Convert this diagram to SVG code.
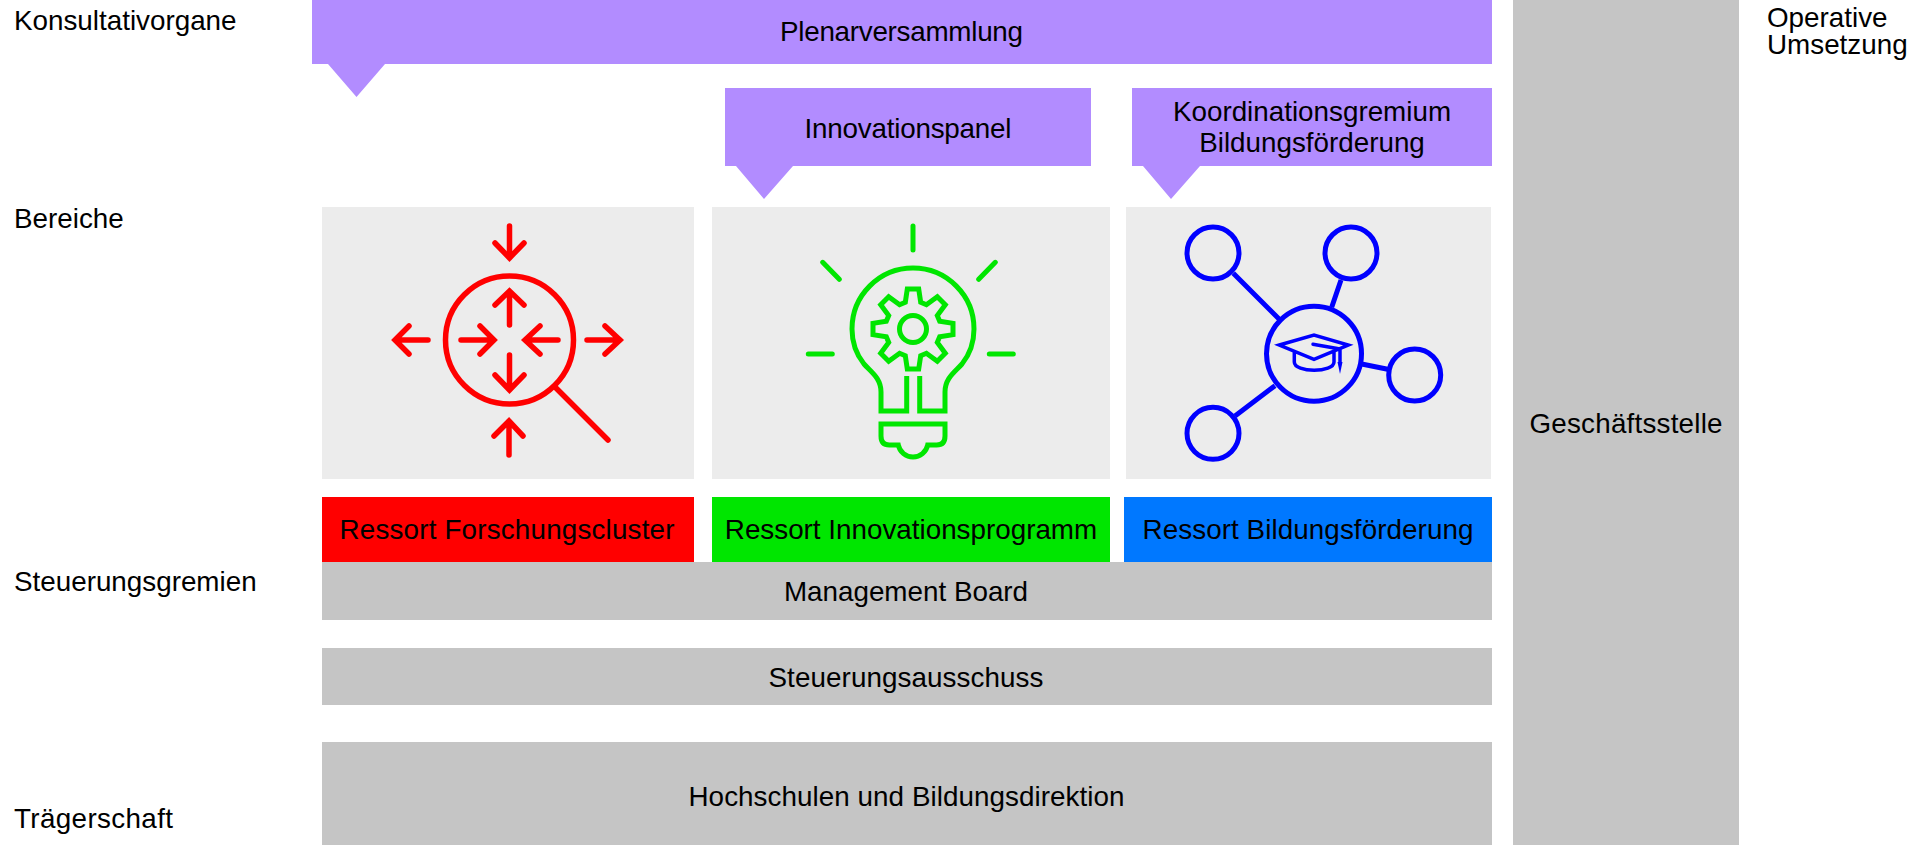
<svg xmlns="http://www.w3.org/2000/svg" width="1932" height="845" viewBox="0 0 1932 845">
<style>
text{font-family:"Liberation Sans",Arial,sans-serif;font-size:27.800px;fill:#000}
.m{text-anchor:middle}
.pur{fill:#b28cff}.gr{fill:#c5c5c5}.pan{fill:#ececec}
.ic{fill:none;stroke-width:5;stroke-linecap:round;stroke-linejoin:miter}
.r{stroke:#f00;stroke-width:5.500}.g{stroke:#00e600}.b{stroke:#00f}
</style>
<rect width="1932" height="845" fill="#fff"/>
<g id="labels">
<text x="14" y="30">Konsultativorgane</text>
<text x="14" y="228">Bereiche</text>
<text x="14" y="591">Steuerungsgremien</text>
<text x="14" y="828" textLength="159">Trägerschaft</text>
<text x="1767" y="27">Operative</text>
<text x="1767" y="54">Umsetzung</text>
</g>
<g id="plenar"><polygon class="pur" points="312,0 1492,0 1492,64 385,64 356.500,97 328,64 312,64"/><text class="m" x="901.500" y="41" textLength="243">Plenarversammlung</text></g>
<g id="innopanel"><polygon class="pur" points="725,88 1091,88 1091,166 793,166 764,199 736,166 725,166"/><text class="m" x="908" y="138" textLength="207">Innovationspanel</text></g>
<g id="koord"><polygon class="pur" points="1132,88 1492,88 1492,166 1200,166 1171,199 1143,166 1132,166"/><text class="m" x="1312" y="121">Koordinationsgremium</text><text class="m" x="1312" y="152">Bildungsförderung</text></g>
<g id="bereich-forschung"><rect class="pan" x="322" y="207" width="372" height="272"/>
<g class="ic r"><circle cx="509.500" cy="340" r="64"/><path d="M509.500 226V258M495 243L509.500 258L524 243M509.500 325V292M495 305L509.500 291L524 305M461 340H493M480 326L494 340L480 354M558 340H526M540 326L525 340L540 354M509.500 355V390M495 375L509.500 390L524 375M428 340H396M409 326L395 340L409 354M587 340H620M605 326L620 340L605 354M509 455V421M494 436L509 421L523 436M556 388L608 440"/></g></g>
<g id="bereich-innovation"><rect class="pan" x="712" y="207" width="398" height="272"/>
<g class="ic g"><path stroke-linecap="butt" d="M906.700 376V411H881V392C881 378 871 372 864 364C856 354 852 342 852 329A61 61 0 0 1 974 329C974 342 970 354 962 364C955 372 945 378 945 392V411H919.700V376"/><path d="M881 424H945V436Q945 445 936.700 445H927.700A15 15 0 0 1 898.300 445H889.300Q881 445 881 436Z"/><path d="M913 226V250M822.700 262.300L839.300 279.300M995.300 262.300L978.700 279.300M808.300 354H832.300M989.300 354H1013.300"/><circle cx="913" cy="329" r="13.500"/><polygon transform="translate(913 329)" points="-7.700,-26.700 -5.700,-40 5.700,-40 7.700,-26.700 13.400,-24.300 24.300,-32.300 32.300,-24.300 24.300,-13.400 26.700,-7.700 40,-5.700 40,5.700 26.700,7.700 24.300,13.400 32.300,24.300 24.300,32.300 13.400,24.300 7.700,26.700 5.700,40 -5.700,40 -7.700,26.700 -13.400,24.300 -24.300,32.300 -32.300,24.300 -24.300,13.400 -26.700,7.700 -40,5.700 -40,-5.700 -26.700,-7.700 -24.300,-13.400 -32.300,-24.300 -24.300,-32.300 -13.400,-24.300"/></g></g>
<g id="bereich-bildung"><rect class="pan" x="1126" y="207" width="365" height="272"/>
<g class="ic b"><circle cx="1314" cy="353.700" r="47.500"/><circle cx="1213" cy="253" r="26"/><circle cx="1351" cy="253" r="26"/><circle cx="1414.700" cy="375" r="26"/><circle cx="1213" cy="433.300" r="26"/><path stroke-linecap="butt" d="M1233.300 273.300L1279.300 319.300M1341 280L1331.700 307.300M1361.700 364L1387.700 369.300M1235 416L1275 385.700"/><path stroke-width="3.500" d="M1279.300 345L1314 335L1348.300 345L1314 359.300ZM1294.300 352V362C1294.300 373 1334 373 1334 362V352M1313 344.300L1340 349V363"/></g><polygon points="1337.500,362 1342.500,362 1340,374" fill="#00f"/></g>
<g id="ressort-forschung"><rect x="322" y="497" width="372" height="65" fill="#f00"/><text class="m" x="507" y="539" textLength="335">Ressort Forschungscluster</text></g>
<g id="ressort-innovation"><rect x="712" y="497" width="398" height="65" fill="#00e600"/><text class="m" x="911" y="539">Ressort Innovationsprogramm</text></g>
<g id="ressort-bildung"><rect x="1124" y="497" width="368" height="65" fill="#0078ff"/><text class="m" x="1308" y="539" textLength="331">Ressort Bildungsförderung</text></g>
<g id="management"><rect class="gr" x="322" y="562" width="1170" height="58"/><text class="m" x="906" y="601">Management Board</text></g>
<g id="steuerung"><rect class="gr" x="322" y="648" width="1170" height="57"/><text class="m" x="906" y="687" textLength="275">Steuerungsausschuss</text></g>
<g id="hochschulen"><rect class="gr" x="322" y="742" width="1170" height="103"/><text class="m" x="906.500" y="806" textLength="436">Hochschulen und Bildungsdirektion</text></g>
<g id="geschaeftsstelle"><rect class="gr" x="1513" y="0" width="226" height="845"/><text class="m" x="1626" y="433" textLength="193">Geschäftsstelle</text></g>
<g id="connectors"/>
</svg>
